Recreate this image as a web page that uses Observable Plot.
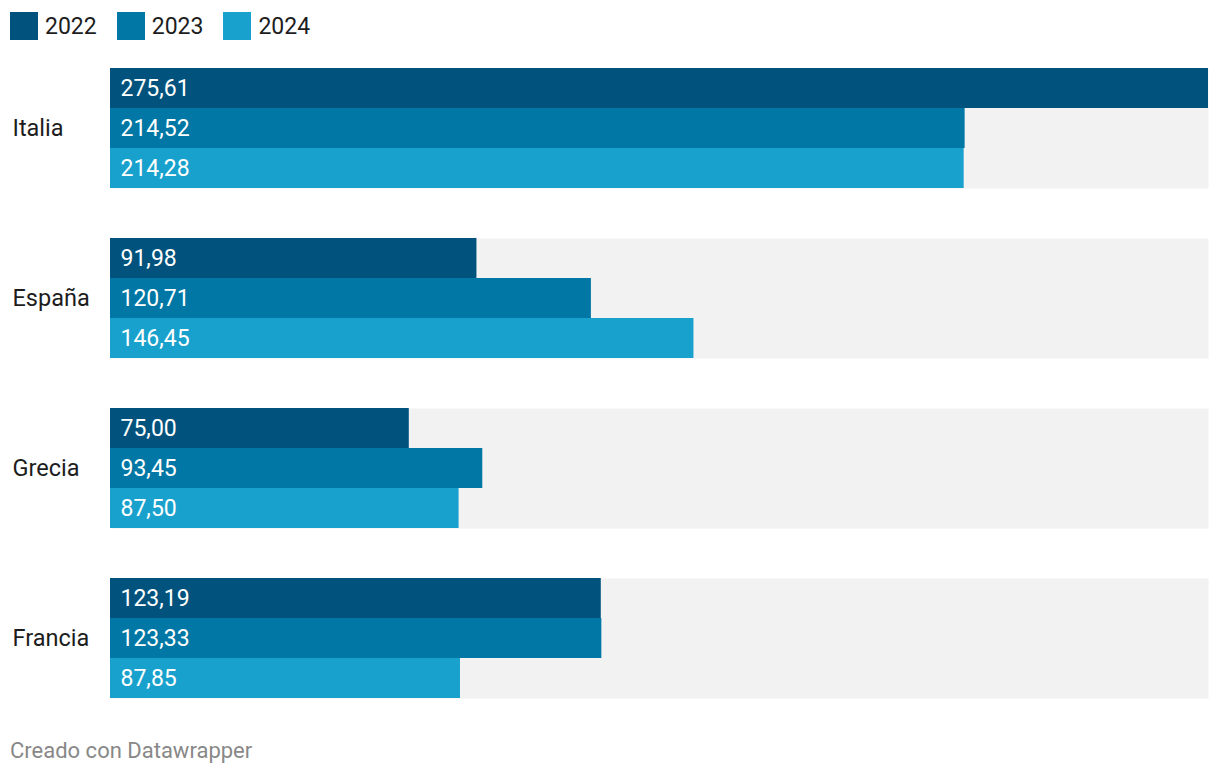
<!DOCTYPE html>
<html>
<head>
<meta charset="utf-8">
<script src="https://cdn.jsdelivr.net/npm/d3@7"></script>
<script src="https://cdn.jsdelivr.net/npm/@observablehq/plot@0.6"></script>
<style>
  body { margin: 0; background: #fff; font-family: Roboto, "Noto Sans", sans-serif; }
  #legend { height: 60px; display: flex; align-items: flex-start; padding-top: 12px; padding-left: 10px; box-sizing: border-box; }
  .item { display: flex; align-items: center; margin-right: 20px; font-size: 23px; color: #1d1d1d; }
  .sw { width: 28px; height: 28px; margin-right: 7px; }
  #footer { font-size: 22px; color: #888; padding-left: 10px; margin-top: 18px; }
</style>
</head>
<body>
<div id="legend"></div>
<div id="chart"></div>
<div id="footer">Creado con Datawrapper</div>
<script>
const countries = ["Italia", "España", "Grecia", "Francia"];
const years = ["2022", "2023", "2024"];
const colors = ["#01537d", "#0077a4", "#19a1cd"];
const v2022 = [275.61, 91.98, 75.00, 123.19];
const v2023 = [214.52, 120.71, 93.45, 123.33];
const v2024 = [214.28, 146.45, 87.50, 87.85];

const series = [v2022, v2023, v2024];
const data = [];
countries.forEach((c, i) => {
  years.forEach((y, j) => data.push({country: c, year: y, value: series[j][i]}));
});
const fmt = v => v.toFixed(2).replace(".", ",");

const legend = document.getElementById("legend");
years.forEach((y, j) => {
  const it = document.createElement("div");
  it.className = "item";
  it.innerHTML = `<div class="sw" style="background:${colors[j]}"></div><span>${y}</span>`;
  legend.appendChild(it);
});

const xmax = d3.max(data, d => d.value);

const chart = Plot.plot({
  width: 1220,
  height: 660,
  marginLeft: 110,
  marginRight: 12,
  marginTop: 8,
  marginBottom: 22,
  style: { fontFamily: "Roboto, sans-serif", fontSize: "23px", background: "transparent" },
  x: { domain: [0, xmax], axis: null },
  y: { domain: years, padding: 0, axis: null },
  fy: { domain: countries, paddingInner: 50 / 170, paddingOuter: 0, axis: null },
  color: { domain: years, range: colors },
  marks: [
    Plot.frame({ fill: "#f2f2f2", stroke: null }),
    Plot.barX(data, { x: "value", y: "year", fy: "country", fill: "year" }),
    Plot.text(data, { y: "year", fy: "country", frameAnchor: "left", textAnchor: "start", dx: 10, text: d => fmt(d.value), fill: "white", fontSize: 23 }),
    Plot.text(countries, { fy: d => d, frameAnchor: "left", textAnchor: "start", dx: -98, text: d => d, fill: "#1d1d1d", fontSize: 23.5 })
  ]
});
document.getElementById("chart").appendChild(chart);
</script>
</body>
</html>
